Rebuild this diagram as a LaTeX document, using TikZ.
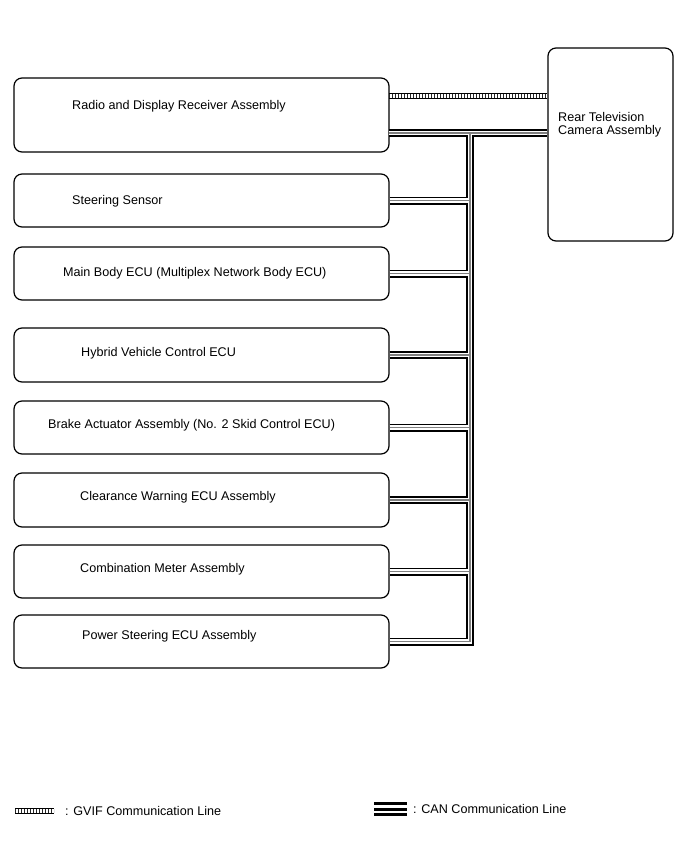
\documentclass[tikz,border=0pt]{standalone}
\usepackage{fontspec}
\setmainfont{Liberation Sans}

\tikzset{
  ecu/.style={draw, line width=1.2pt, rounded corners=8pt, fill=white,
    minimum width=375pt, minimum height=54pt, inner sep=0pt},
  txt/.style={anchor=base west, inner sep=0pt, font=\fontsize{12.6}{13.5}\selectfont},
  gvifrails/.style={line width=1pt, double distance=4pt},
  gvifticks/.style={line width=4pt, dash pattern=on 1.4pt off 1.6pt, black!85},
}

% CAN line drawn in three passes so that the junctions merge
\newcommand{\canlines}[1]{%
  \draw[#1] (radiocan) -- (radiocan -| camera.west);
  \draw[#1] (radiocan -| bus) -- (bus |- power.east) -- (power.east);
  \foreach \n in {steer,body,hybrid,brake,clear,meter}
    \draw[#1] (\n.east) -- (\n.east -| bus);
}

\begin{document}
\begin{tikzpicture}[x=1pt,y=-1pt]
  \useasboundingbox (0,0) rectangle (688,852);

  % units
  \node[ecu, minimum height=74pt] (radio) at (201.5,115) {};
  \node[ecu, minimum height=53pt] (steer) at (201.5,200.5) {};
  \node[ecu, minimum height=53pt] (body) at (201.5,273.5) {};
  \node[ecu] (hybrid) at (201.5,355) {};
  \node[ecu, minimum height=53pt] (brake) at (201.5,427.5) {};
  \node[ecu] (clear) at (201.5,500) {};
  \node[ecu, minimum height=53pt] (meter) at (201.5,571.5) {};
  \node[ecu, minimum height=53pt] (power) at (201.5,641.5) {};
  \node[ecu, minimum width=125pt, minimum height=193pt] (camera) at (610.5,144.5) {};

  \node[txt] (radiotxt) at (72,109.5) {Radio and Display Receiver Assembly};
  \node[txt] (steertxt) at (72,204.5) {Steering Sensor};
  \node[txt] (bodytxt) at (63,276.5) {Main Body ECU (Multiplex Network Body ECU)};
  \node[txt] (hybridtxt) at (81,356.5) {Hybrid Vehicle Control ECU};
  \node[txt] (braketxt) at (48,428.5) {Brake Actuator Assembly (No. 2 Skid Control ECU)};
  \node[txt] (cleartxt) at (80,500.5) {Clearance Warning ECU Assembly};
  \node[txt] (metertxt) at (80,572.5) {Combination Meter Assembly};
  \node[txt] (powertxt) at (82,639.5) {Power Steering ECU Assembly};
  \node[txt, anchor=west, align=left] (cameratxt) at (558,124.5) {Rear Television\\Camera Assembly};

  % GVIF
  \coordinate (radiogvif) at (389,95.5);
  \draw[gvifrails] (radiogvif) -- (radiogvif -| camera.west);
  \draw[gvifticks] (radiogvif) -- (radiogvif -| camera.west);

  % CAN
  \coordinate (radiocan) at (389,133);
  \coordinate (bus) at (470,133);
  \canlines{line width=8pt, black}
  \canlines{line width=4.8pt, white}
  \canlines{line width=1.4pt, black!50}

  % legend
  \coordinate (gvifkey) at (15,810.5);
  \draw[gvifrails] (gvifkey) -- ++(39,0);
  \draw[gvifticks] (gvifkey) -- ++(39,0);
  \node[txt, anchor=west] (gviftxt) at (65,810.5) {: GVIF Communication Line};

  \coordinate (cankey) at (374,809.2);
  \draw[line width=2.8pt] ([yshift=5.5pt]cankey) -- ++(33,0);
  \draw[line width=2.8pt] (cankey) -- ++(33,0);
  \draw[line width=2.8pt] ([yshift=-5.5pt]cankey) -- ++(33,0);
  \node[txt, anchor=west] (cantxt) at (413,809.3) {: CAN Communication Line};
\end{tikzpicture}
\end{document}
